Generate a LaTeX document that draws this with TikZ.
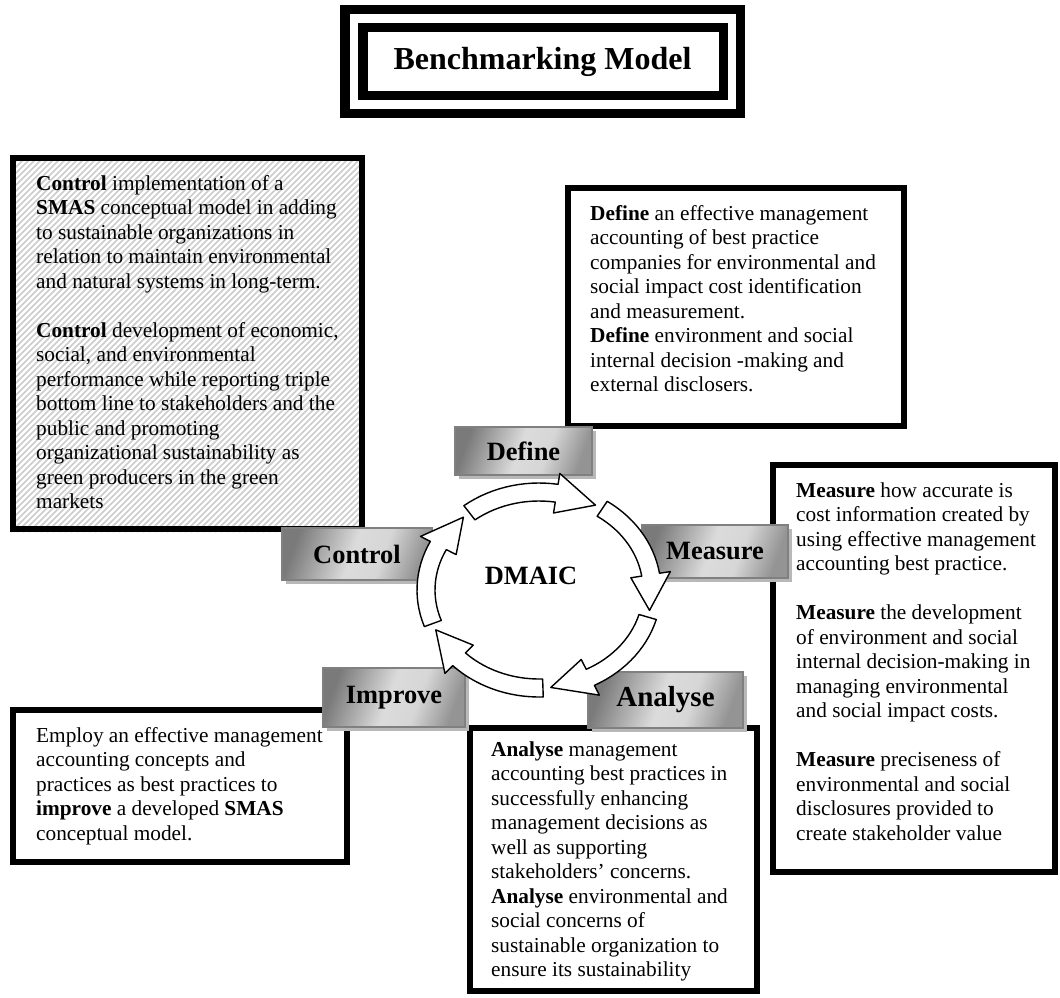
\documentclass[tikz,border=0pt]{standalone}
\usepackage{fontspec}
\setmainfont{Liberation Serif}
\usetikzlibrary{shadows}

% metallic fill of the phase tabs
\pgfdeclarehorizontalshading{tabshade}{100bp}{color(0bp)=(black!52); color(25bp)=(black!52); color(48bp)=(black!14); color(60bp)=(black!16); color(75bp)=(black!42); color(100bp)=(black!42)}

\begin{document}
\begin{tikzpicture}[x=1pt,y=-1pt,
  body/.style={anchor=north west, inner sep=0pt, align=left, font=\fontsize{21.3}{24.5}\selectfont},
  framebox/.style={draw=black, line width=6pt, inner sep=0pt, fill=white},
  tabbox/.style={draw=black!50, line width=1.6pt, shade, shading=tabshade, shading angle=-20, inner sep=0pt,
    font=\bfseries\fontsize{26.4}{30}\selectfont,
    drop shadow={shadow xshift=4pt, shadow yshift=-4pt, fill=black!28, opacity=1}},
  hatchline/.style={draw=black!20, line width=1.6pt},
  ringarrow/.style={draw=black, fill=white, line width=1.4pt, line join=round}
]
\useasboundingbox (0,0) rectangle (1060,998);

% title with double frame
\node[draw, line width=9.5pt, minimum width=395.5, minimum height=103.5] (titleout) at (542.5,61.5) {};
\node[draw, line width=9.5pt, minimum width=360.5, minimum height=67.5] (titlein) at (543,61.5) {};
\node[font=\bfseries\fontsize{32}{36}\selectfont] (title) at (542.5,61.5) {Benchmarking Model};

% Control box, hatched
\begin{scope}
  \clip (10,155) rectangle (365,532);
  \foreach \k in {0,...,125} \draw[hatchline] ({10-377+6*\k},532) -- ++(377,-377);
\end{scope}
\node[framebox, fill=none, minimum width=349, minimum height=371] (ctlbox) at (187.5,343.5) {};
\node[body] (ctltext) at (36,174) {\rule{0pt}{16pt}\textbf{Control} implementation of a\\
\textbf{SMAS} conceptual model in adding\\
to sustainable organizations in\\
relation to maintain environmental\\
and natural systems in long-term.\\[24.5pt]
\textbf{Control} development of economic,\\
social, and environmental\\
performance while reporting triple\\
bottom line to stakeholders and the\\
public and promoting\\
organizational sustainability as\\
green producers in the green\\
markets};

% Define box
\node[framebox, minimum width=336, minimum height=238] (defbox) at (736,307) {};
\node[body] (deftext) at (590,204) {\rule{0pt}{16pt}\textbf{Define} an effective management\\
accounting of best practice\\
companies for environmental and\\
social impact cost identification\\
and measurement.\\
\textbf{Define} environment and social\\
internal decision -making and\\
external disclosers.};

% Measure box
\node[framebox, minimum width=282, minimum height=407] (measbox) at (914,668.5) {};
\node[body] (meastext) at (796,481) {\rule{0pt}{16pt}\textbf{Measure} how accurate is\\
cost information created by\\
using effective management\\
accounting best practice.\\[24.5pt]
\textbf{Measure} the development\\
of environment and social\\
internal decision-making in\\
managing environmental\\
and social impact costs.\\[24.5pt]
\textbf{Measure} preciseness of\\
environmental and social\\
disclosures provided to\\
create stakeholder value};

% Improve box
\node[framebox, minimum width=334, minimum height=152] (impbox) at (180,786) {};
\node[body] (imptext) at (36,726) {\rule{0pt}{16pt}Employ an effective management\\
accounting concepts and\\
practices as best practices to\\
\textbf{improve} a developed \textbf{SMAS}\\
conceptual model.};

% Analyse box
\node[framebox, minimum width=287, minimum height=263] (anabox) at (613.5,859.5) {};
\node[body] (anatext) at (491,740) {\rule{0pt}{16pt}\textbf{Analyse} management\\
accounting best practices in\\
successfully enhancing\\
management decisions as\\
well as supporting\\
stakeholders’ concerns.\\
\textbf{Analyse} environmental and\\
social concerns of\\
sustainable organization to\\
ensure its sustainability};

% phase tabs
\node[tabbox, minimum width=137, minimum height=48] (tabD) at (523.5,451) {Define};
\node[tabbox, minimum width=150, minimum height=52] (tabC) at (357,554) {Control};
\node[tabbox, minimum width=146, minimum height=53] (tabM) at (715,551.5) {Measure};
\node[tabbox, minimum width=142, minimum height=59] (tabI) at (394,697.5) {Improve};
\node[tabbox, minimum width=155, minimum height=56, font=\bfseries\fontsize{29}{32}\selectfont] (tabA) at (665.5,700) {Analyse};

% DMAIC cycle of five curved arrows
\foreach \i in {0,...,4}{
  \pgfmathsetmacro\ta{128-72*\i}
  \pgfmathsetmacro\tb{\ta-47}
  \pgfmathsetmacro\tp{\ta-68}
  \filldraw[ringarrow]
    plot[domain=\ta:\tb, samples=16, variable=\ang] ({539+122*cos(\ang)},{590-107*sin(\ang)})
    -- ({539+133*cos(\tb)},{590-118*sin(\tb)})
    -- ({539+113*cos(\tp)},{590-98*sin(\tp)})
    -- ({539+93*cos(\tb)},{590-78*sin(\tb)})
    -- plot[domain=\tb:\ta, samples=16, variable=\ang] ({539+104*cos(\ang)},{590-89*sin(\ang)})
    -- cycle;
}
\node[font=\bfseries\fontsize{26.4}{30}\selectfont] (dmaic) at (531,576) {DMAIC};

\end{tikzpicture}
\end{document}
